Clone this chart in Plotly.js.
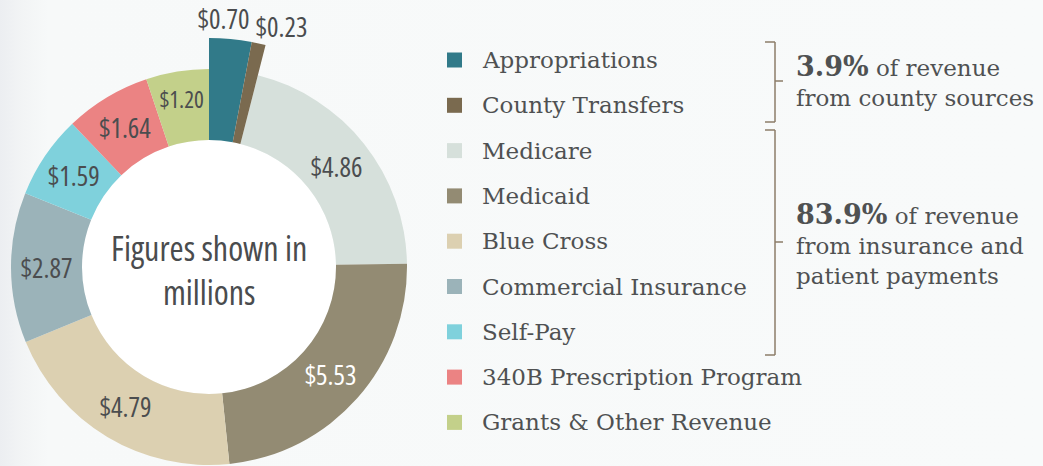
<!DOCTYPE html>
<html>
<head>
<meta charset="utf-8">
<script src="https://cdn.plot.ly/plotly-3.0.1.min.js"></script>
<style>
  html, body { margin: 0; padding: 0; overflow: hidden; width: 1043px; height: 466px;
    background: linear-gradient(to right, #eceef1 0px, #f2f4f5 22px, #f7f9f9 48px, #f8fafa 100%); }
  #chart { position: absolute; left: -40px; top: 0; width: 1083px; height: 520px; }
  .slicetext, .annotation[data-index="0"] text, .annotation[data-index="1"] text, .annotation[data-index="2"] text {
    font-stretch: 75%;
  }
</style>
</head>
<body>
<div id="chart"></div>
<script>
// ---- data ----
const categories = ["Appropriations", "County Transfers", "Medicare", "Medicaid", "Blue Cross",
  "Commercial Insurance", "Self-Pay", "340B Prescription Program", "Grants & Other Revenue"];
const values = [0.70, 0.23, 4.86, 5.53, 4.79, 2.87, 1.59, 1.64, 1.20];
const colors = ["#317a89", "#7a6a4f", "#d6e0db", "#938b73", "#dcd0b1", "#9bb3b9", "#7fd1dc", "#eb8383", "#c3d08a"];
const labelColors = ["#4b4d4f", "#4b4d4f", "#4b4d4f", "#ffffff", "#4b4d4f", "#4b4d4f", "#4b4d4f", "#4b4d4f", "#4b4d4f"];
const countySources = ["Appropriations", "County Transfers"];
const centerText = "Figures shown in<br>millions";
const countyNote = { pct: "3.9%", text: " of revenue<br>from county sources" };
const insuranceNote = { pct: "83.9%", text: " of revenue<br>from insurance and<br>patient payments" };

// ---- geometry helpers (pixel -> paper) ----
const W = 1083, H = 520, OFF = 40;
const X = px => (px + OFF) / W;
const Y = py => 1 - py / H;
const CX = 209, CY = 267, R = 198, RIN = 127, RBIG = 229;

const isCounty = categories.map(c => countySources.includes(c));
const fmt = v => "$" + v.toFixed(2);
const labelFont = "'Open Sans', 'Noto Sans', 'Liberation Sans', sans-serif";
const serif = "'DejaVu Serif', 'Liberation Serif', serif";
const textGray = "#4a4c4e";

const ring = {
  type: "pie", values: values, labels: categories, sort: false, direction: "clockwise", rotation: 0,
  hole: RIN / R,
  domain: { x: [X(CX - R), X(CX + R)], y: [Y(CY + R), Y(CY - R)] },
  marker: { colors: colors.map((c, i) => isCounty[i] ? "rgba(0,0,0,0)" : c), line: { width: 0 } },
  text: values.map((v, i) => isCounty[i] ? "" : fmt(v)),
  textinfo: "text", textposition: "inside", insidetextorientation: "horizontal",
  textfont: { family: labelFont, size: 27, weight: 500, color: labelColors },
  hoverinfo: "label+value", showlegend: false
};
const county = {
  type: "pie", values: values, labels: categories, sort: false, direction: "clockwise", rotation: 0,
  hole: RIN / RBIG,
  domain: { x: [X(CX - RBIG), X(CX + RBIG)], y: [Y(CY + RBIG), Y(CY - RBIG)] },
  marker: { colors: colors.map((c, i) => isCounty[i] ? c : "rgba(0,0,0,0)"), line: { width: 0 } },
  textinfo: "none",
  hoverinfo: "skip", showlegend: false
};

const shapes = [
  { type: "circle", layer: "below", xref: "paper", yref: "paper",
    x0: X(CX - RIN), x1: X(CX + RIN), y0: Y(CY + RIN), y1: Y(CY - RIN),
    fillcolor: "#ffffff", line: { width: 0 } }
];
const annotations = [
  { xref: "paper", yref: "paper", x: X(CX), y: Y(CY + 3), xanchor: "center", yanchor: "middle",
    text: centerText, showarrow: false, font: { family: labelFont, size: 34, weight: 500, color: textGray } }
];

// outside labels of the extended county slices, placed at each slice's mid-angle
const total = values.reduce((a, b) => a + b, 0);
const outsideShift = [-9, 18];
const outsideYShift = [0, -4];
let cum = 0, k = 0;
values.forEach((v, i) => {
  const a = (cum + v / 2) / total * 2 * Math.PI;
  cum += v;
  if (!isCounty[i]) return;
  const rl = RBIG + 21;
  annotations.push({ xref: "paper", yref: "paper", x: X(CX + rl * Math.sin(a)), y: Y(CY - rl * Math.cos(a)),
    xanchor: "center", yanchor: "middle", xshift: outsideShift[k], yshift: outsideYShift[k], text: fmt(v), showarrow: false,
    font: { family: labelFont, size: 27, weight: 500, color: textGray } });
  k++;
});

// ---- legend built from categories/colors ----
const rowY0 = 60, rowStep = 45.3;
categories.forEach((c, i) => {
  const yc = rowY0 + i * rowStep;
  shapes.push({ type: "rect", xref: "paper", yref: "paper", x0: X(447), x1: X(462), y0: Y(yc + 7.5), y1: Y(yc - 7.5),
    fillcolor: colors[i], line: { width: 0 } });
  annotations.push({ xref: "paper", yref: "paper", x: X(480), y: Y(yc), xanchor: "left", yanchor: "middle",
    text: c, showarrow: false, font: { family: serif, size: 23, color: "#4f5152" } });
});

// brackets
const bc = "#8c7c68";
function bracket(top, bottom, mid) {
  const L = { type: "line", xref: "paper", yref: "paper", line: { color: bc, width: 1.5 } };
  shapes.push(Object.assign({}, L, { x0: X(775), x1: X(775), y0: Y(top), y1: Y(bottom) }));
  shapes.push(Object.assign({}, L, { x0: X(765), x1: X(775), y0: Y(top), y1: Y(top) }));
  shapes.push(Object.assign({}, L, { x0: X(765), x1: X(775), y0: Y(bottom), y1: Y(bottom) }));
  shapes.push(Object.assign({}, L, { x0: X(775), x1: X(783), y0: Y(mid), y1: Y(mid) }));
}
bracket(42, 122, 81);
bracket(130, 355, 242);

function note(n, yc) {
  annotations.push({ xref: "paper", yref: "paper", x: X(794), y: Y(yc), xanchor: "left", yanchor: "middle", align: "left",
    text: "<b><span style='font-size:27px'>" + n.pct + "</span></b>" + n.text, showarrow: false,
    font: { family: serif, size: 23, color: "#4f5152" } });
}
note(countyNote, 81);
note(insuranceNote, 244);

Plotly.newPlot("chart", [ring, county], {
  width: W, height: H, margin: { l: 0, r: 0, t: 0, b: 0 },
  paper_bgcolor: "rgba(0,0,0,0)", plot_bgcolor: "rgba(0,0,0,0)",
  shapes: shapes, annotations: annotations, showlegend: false
}, { displayModeBar: false, staticPlot: true });
</script>
</body>
</html>
